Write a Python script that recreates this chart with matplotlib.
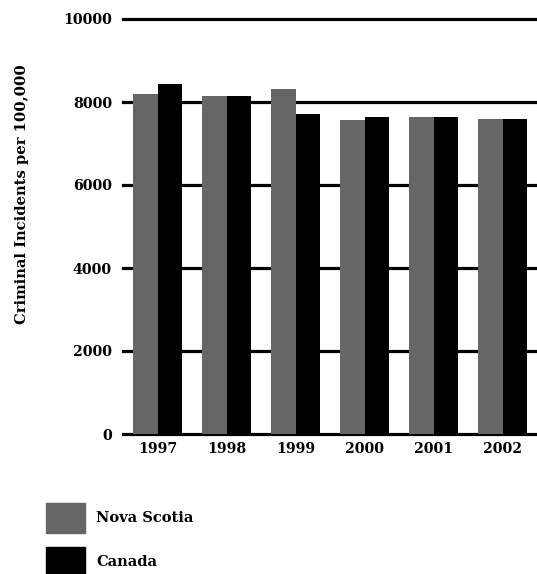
import matplotlib.pyplot as plt
import numpy as np
from matplotlib.patches import Rectangle

years = ["1997", "1998", "1999", "2000", "2001", "2002"]
nova_scotia = [8200, 8140, 8320, 7560, 7630, 7600]
canada = [8440, 8140, 7720, 7630, 7630, 7580]
series_names = ["Nova Scotia", "Canada"]
yticks = [0, 2000, 4000, 6000, 8000, 10000]

plt.rcParams['font.family'] = ['DejaVu Serif']
plt.rcParams['font.weight'] = 'bold'

fig = plt.figure(figsize=(5.37, 5.74), dpi=100)
ax = fig.add_axes([123/537, 1 - 434/574, 1 - 123/537, (434 - 19)/574])

x = np.arange(len(years))
w = 0.355
for t in yticks:
    ax.axhline(t, color='black', lw=2.3, zorder=1, clip_on=False)
ax.bar(x - w/2, nova_scotia, w, color='#666666', zorder=2)
ax.bar(x + w/2, canada, w, color='black', zorder=2)

ax.set_ylim(0, 10000)
ax.set_xlim(-0.507, 5.493)
ax.set_xticks(x)
ax.set_xticklabels(years, fontsize=10.2, fontweight='bold')
ax.set_yticks(yticks)
ax.set_yticklabels([str(t) for t in yticks], fontsize=10.2, fontweight='bold')
ax.tick_params(length=0, pad=8)
ax.tick_params(axis='x', pad=6)
for s in ax.spines.values():
    s.set_visible(False)

fig.text(22/537, 1 - 194/574, "Criminal Incidents per 100,000", rotation=90,
         ha='center', va='center', fontsize=10.6, fontweight='bold')

colors = ['#666666', 'black']
for i, (name, c) in enumerate(zip(series_names, colors)):
    top = 503 + i * 44
    fig.add_artist(Rectangle((46/537, 1 - (top + 30)/574), 39/537, 30/574,
                             transform=fig.transFigure, color=c))
    fig.text(96/537, 1 - (top + 15)/574, name, ha='left', va='center',
             fontsize=10.5, fontweight='bold')

fig.savefig("out.png", dpi=100)
